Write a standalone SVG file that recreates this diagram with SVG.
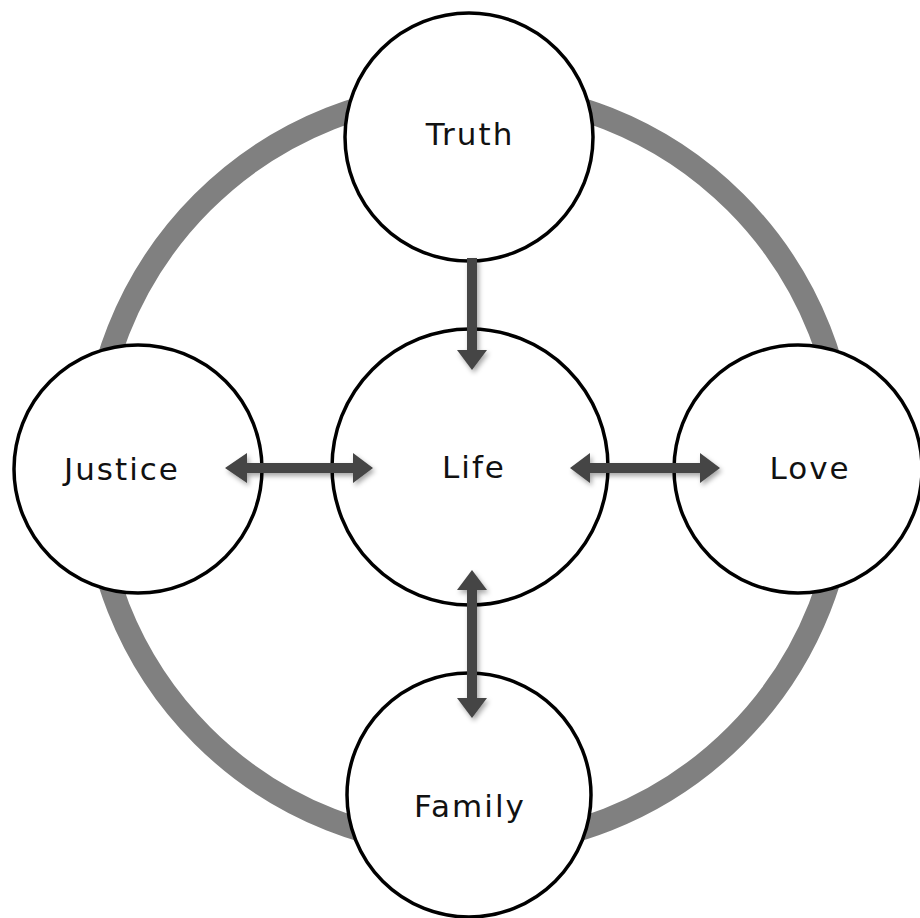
<svg xmlns="http://www.w3.org/2000/svg" width="920" height="918" viewBox="0 0 920 918">
  <style>
    .node { fill: #ffffff; stroke: #000000; stroke-width: 3.5; }
    .lbl { font-family: "DejaVu Sans", "Liberation Sans", sans-serif; font-size: 31px; letter-spacing: 2px; fill: #111111; text-anchor: middle; }
    .arrow { fill: #454545; filter: url(#shadow); }
  </style>
  <defs>
    <filter id="shadow" x="-30%" y="-30%" width="160%" height="160%">
      <feDropShadow dx="2" dy="3" stdDeviation="2.5" flood-color="#000000" flood-opacity="0.35"/>
    </filter>
  </defs>
  <rect width="920" height="918" fill="#ffffff"/>
  <g id="ring">
    <circle cx="469" cy="469" r="377" fill="none" stroke="#808080" stroke-width="23"/>
  </g>
  <g id="node-truth">
    <circle class="node" cx="469" cy="137" r="124"/>
    <text class="lbl" x="470" y="145">Truth</text>
  </g>
  <g id="node-justice">
    <circle class="node" cx="138" cy="469" r="124"/>
    <text class="lbl" x="122" y="480">Justice</text>
  </g>
  <g id="node-life">
    <circle class="node" cx="470" cy="467" r="138"/>
    <text class="lbl" x="474" y="478">Life</text>
  </g>
  <g id="node-love">
    <circle class="node" cx="798" cy="469" r="124"/>
    <text class="lbl" x="810" y="479">Love</text>
  </g>
  <g id="node-family">
    <circle class="node" cx="469" cy="795" r="122"/>
    <text class="lbl" x="470" y="817">Family</text>
  </g>
  <g id="connectors">
    <polygon class="arrow" points="467,258 477,258 477,350 487,350 472,370 457,350 467,350"/>
    <polygon class="arrow" points="225,468 247,453 247,463 353,463 353,453 373,468 353,483 353,473 247,473 247,483"/>
    <polygon class="arrow" points="570,468 590,453 590,463 700,463 700,453 720,468 700,483 700,473 590,473 590,483"/>
    <polygon class="arrow" points="472,570 487,590 477,590 477,698 487,698 472,718 457,698 467,698 467,590 457,590"/>
  </g>
</svg>
